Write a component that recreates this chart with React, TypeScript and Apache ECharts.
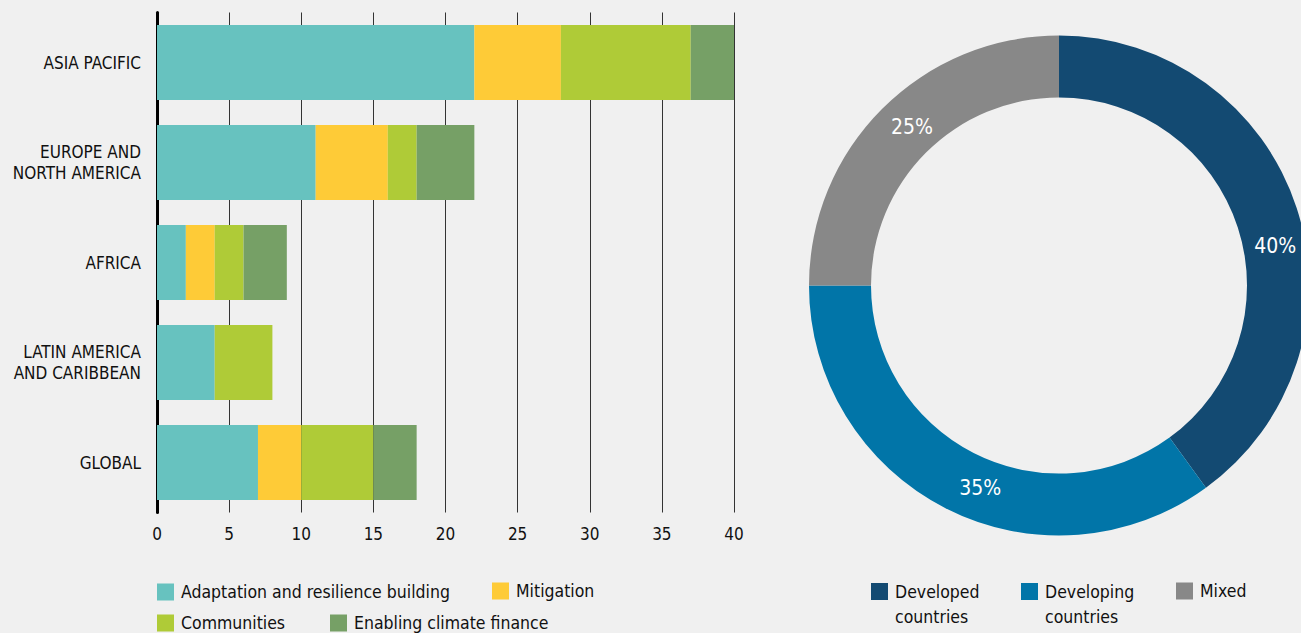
import React, { useEffect, useRef } from "react";
import * as echarts from "echarts";

const regions = ["ASIA PACIFIC", "EUROPE AND\nNORTH AMERICA", "AFRICA", "LATIN AMERICA\nAND CARIBBEAN", "GLOBAL"];
const adaptation = [22, 11, 2, 4, 7];
const mitigation = [6, 5, 2, 0, 3];
const communities = [9, 2, 2, 4, 5];
const enabling = [3, 4, 3, 0, 3];
const barSeriesNames = ["Adaptation and resilience building", "Mitigation", "Communities", "Enabling climate finance"];
const barColors = ["#67c2bf", "#fecb37", "#afcb37", "#76a066"];

const shareNames = ["Developed countries", "Developing countries", "Mixed"];
const shareValues = [40, 35, 25];
const shareColors = ["#134a72", "#0175a8", "#888888"];
const labelShift = [
  [5, 29],
  [22, 5],
  [10, -2],
];

const FONT = "'Liberation Sans Narrow', 'DejaVu Sans Condensed', 'Roboto Condensed', 'Arial Narrow', sans-serif";

export default function App() {
  const ref = useRef<HTMLDivElement>(null);
  useEffect(() => {
    document.body.style.margin = "0";
    document.body.style.background = "#f0f0f0";
    const chart = echarts.init(ref.current!, undefined, { renderer: "svg" });
    const barData = [adaptation, mitigation, communities, enabling];
    const legendText = { fontFamily: FONT, fontSize: 17.5, color: "#111", padding: [0, 0, 0, 2] };
    const mkLegend = (name: string, left: number, top: number, extra: any = {}) => ({
      data: [{ name, ...extra }],
      left,
      top,
      orient: "horizontal",
      itemWidth: 17,
      itemHeight: 17,
      itemGap: 8,
      icon: "rect",
      textStyle: legendText,
      padding: 0,
      selectedMode: false,
      formatter: (n: string) =>
        n === "Developed countries" || n === "Developing countries" ? " \n" + n.replace(" ", "\n") : n,
    });
    const twoLine = { textStyle: { ...legendText, lineHeight: 25 } };
    chart.setOption({
      animation: false,
      backgroundColor: "#f0f0f0",
      textStyle: { fontFamily: FONT },
      grid: { left: 157, top: 12.5, width: 577, height: 500, containLabel: false },
      xAxis: {
        type: "value",
        min: 0,
        max: 40,
        interval: 5,
        axisLine: { show: false },
        axisTick: { show: false },
        splitLine: { show: true, lineStyle: { color: "#333", width: 1 } },
        axisLabel: { fontFamily: FONT, fontSize: 17, color: "#111", margin: 13 },
      },
      yAxis: {
        type: "category",
        inverse: true,
        data: regions,
        axisLine: { show: true, lineStyle: { color: "#000", width: 3 } },
        axisTick: { show: false },
        axisLabel: { fontFamily: FONT, fontSize: 17, color: "#111", margin: 16, lineHeight: 21, align: "right" },
      },
      legend: [
        mkLegend(barSeriesNames[0], 157, 583),
        mkLegend(barSeriesNames[1], 492, 582),
        mkLegend(barSeriesNames[2], 157, 614),
        mkLegend(barSeriesNames[3], 330, 614),
        mkLegend(shareNames[0], 871, 554, twoLine),
        mkLegend(shareNames[1], 1021, 554, twoLine),
        mkLegend(shareNames[2], 1176, 582),
      ],
      series: [
        ...barSeriesNames.map((name, i) => ({
          name,
          type: "bar",
          stack: "total",
          barWidth: 75,
          data: barData[i],
          itemStyle: { color: barColors[i] },
          emphasis: { disabled: true },
        })),
        {
          name: "Share",
          type: "pie",
          center: [1059, 285.5],
          radius: [188, 250],
          startAngle: 90,
          clockwise: true,
          avoidLabelOverlap: false,
          label: {
            show: true,
            position: "inside",
            formatter: "{c}%",
            fontFamily: FONT,
            fontSize: 21,
            color: "#fff",
          },
          labelLine: { show: false },
          labelLayout: (p: any) => ({ dx: labelShift[p.dataIndex][0], dy: labelShift[p.dataIndex][1] }),
          emphasis: { disabled: true },
          data: shareNames.map((name, i) => ({
            name,
            value: shareValues[i],
            itemStyle: { color: shareColors[i], borderWidth: 0 },
          })),
        },
      ],
    });
    return () => chart.dispose();
  }, []);
  return <div ref={ref} style={{ width: 1301, height: 633, position: "absolute", left: 0, top: 0 }} />;
}
